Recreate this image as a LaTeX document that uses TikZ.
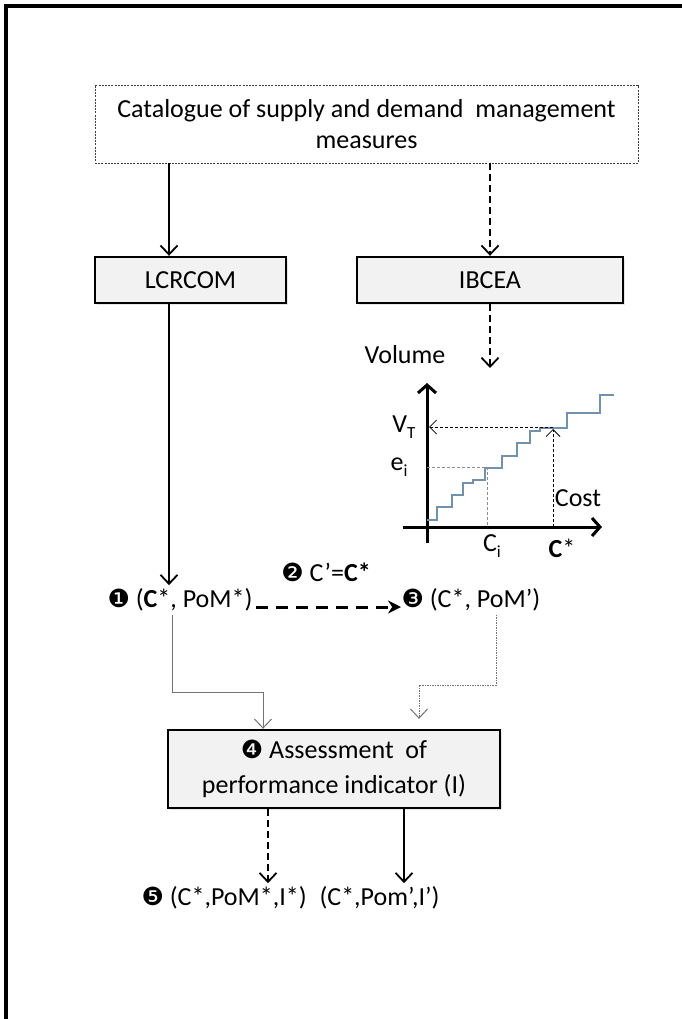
\documentclass[tikz,border=0pt]{standalone}
\usepackage{fontspec}
\setmainfont{Carlito}
\newfontfamily\dingfont{DejaVu Sans}
\usetikzlibrary{arrows.meta,calc,shadows}
\definecolor{boxfill}{RGB}{242,242,242}
\definecolor{stepblue}{RGB}{115,145,170}
\newcommand{\dnum}[1]{{\dingfont\fontsize{25}{25}\selectfont #1}}
\newcommand{\lowidx}[1]{\raisebox{-.45ex}{\fontsize{17}{17}\selectfont #1}}
\tikzset{
  catbox/.style = {draw=black!75, line width=0.8pt, dash pattern=on 2pt off 1.2pt, minimum width=543pt, minimum height=78pt, align=center, inner sep=0pt},
  gbox/.style   = {draw, line width=2.4pt, fill=boxfill, align=center, inner sep=0pt,
                   drop shadow={opacity=0.2, shadow xshift=2pt, shadow yshift=-2pt}},
  flow/.style   = {-{Straight Barb[length=9pt,width=17pt]}, line width=1.8pt},
  dflow/.style  = {flow, dash pattern=on 7pt off 4pt},
  bigdash/.style = {-{Stealth[length=13pt,width=13pt]}, line width=3pt, dash pattern=on 12pt off 8pt},
  gflow/.style  = {-{Straight Barb[length=9pt,width=17pt]}, line width=1pt, draw=black!55},
  dotflow/.style = {gflow, dash pattern=on 1.5pt off 1pt},
  axis/.style   = {-{Straight Barb[length=8pt,width=18pt]}, line width=3pt},
  guide/.style  = {line width=0.8pt, dash pattern=on 3pt off 2pt},
  gguide/.style = {guide, draw=black!45},
  stairs/.style = {line width=1.4pt, draw=stepblue},
}
\begin{document}
\begin{tikzpicture}[x=1pt, y=-1pt, every node/.style={font=\fontsize{26}{31}\selectfont}]
  \useasboundingbox (0,0) rectangle (682,1019);
  \draw[line width=3.5pt] (6,1019) -- (6,6) -- (682,6);

  \node[catbox] (cat) at (366.5,124) {Catalogue of supply and demand\ \ management\\measures};
  \node[gbox, minimum width=191pt, minimum height=46pt] (lcr) at (190.5,280) {LCRCOM};
  \node[gbox, minimum width=266pt, minimum height=46pt] (ibc) at (490,280) {IBCEA};

  \coordinate (ax) at (169,0);
  \coordinate (gtop) at (490,368);
  \draw[flow] (cat.south -| ax) -- (lcr.north -| ax);
  \draw[dflow] (cat.south -| ibc) -- (ibc.north);
  \draw[dflow] (ibc.south) -- (gtop);

  % cost curve
  \draw[axis] (427,543) -- (427,383);
  \draw[axis] (403,527) -- (602,527);
  \draw[stairs] (427,520) -- (437,520) -- (437,507) -- (452,507) -- (452,495) -- (463,495)
    -- (463,483) -- (473,483) -- (473,480) -- (485,480) -- (485,468) -- (502,468) -- (502,456)
    -- (517,456) -- (517,443) -- (530,443) -- (530,431) -- (540,431) -- (540,428) -- (567,428)
    -- (567,413) -- (600,413) -- (600,395) -- (614,395);
  \draw[gguide] (427,467) -- (487,467) -- (487,527);
  \draw[guide, -{Straight Barb[length=7pt,width=14pt]}] (553,527) -- (553,429);
  \draw[guide, -{Straight Barb[length=7pt,width=14pt]}] (553,427) -- (429,427);
  \node (vol) at (405,355) {Volume};
  \node (vt) at (404,427) {V\lowidx{T}};
  \node (ei) at (399,467) {e\lowidx{i}};
  \node (cost) at (578,498) {Cost};
  \node (ci) at (492,546) {C\lowidx{i}};
  \node (cs) at (562,548) {\textbf{C}*};

  \node[anchor=west] (pstar) at (104,600) {\dnum{❶} (\textbf{C}*, PoM*)};
  \node[anchor=west] (pprime) at (398,600) {\dnum{❸} (C*, PoM’)};
  \node (eq) at (326,572) {\dnum{❷} C’=\textbf{C*}};
  \draw[flow] (lcr.south -| ax) -- (pstar.north -| ax);
  \draw[bigdash] ([yshift=-7pt]pstar.east) -- ([xshift=3pt,yshift=-7pt]pprime.west);

  \node[gbox, minimum width=332pt, minimum height=78pt, font=\fontsize{26}{35}\selectfont] (assess) at (334,769)
    {\dnum{❹} Assessment\ \ of\\performance indicator (I)};
  \coordinate (g1) at (172,692);
  \coordinate (g2) at (263,692);
  \coordinate (d1) at (496,685);
  \coordinate (d2) at (419,685);
  \draw[gflow] (pstar.south -| g1) -- (g1) -- (g2) -- (g2 |- assess.north);
  \draw[dotflow] (pprime.south -| d1) -- (d1) -- (d2) -- ([yshift=10pt]d2 |- assess.north);

  \node[anchor=west] (res1) at (138,898) {\dnum{❺} (C*,PoM*,I*)};
  \node[anchor=west] (res2) at (316,898) {(C*,Pom’,I’)};
  \coordinate (b1) at (268,0);
  \coordinate (b2) at (404,0);
  \draw[dflow] (assess.south -| b1) -- (res1.north -| b1);
  \draw[flow] (assess.south -| b2) -- (res2.north -| b2);
\end{tikzpicture}
\end{document}
